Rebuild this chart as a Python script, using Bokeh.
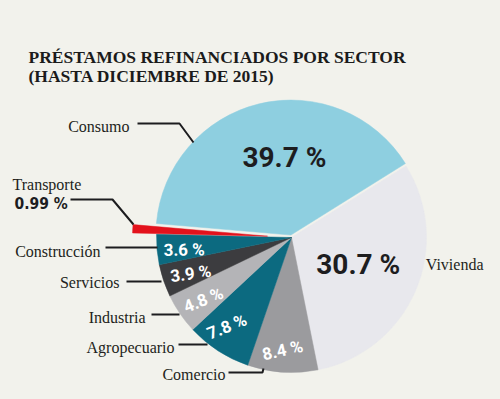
import math
from bokeh.plotting import figure
from bokeh.models import Range1d, GlobalInlineStyleSheet
from bokeh.core.properties import value
from bokeh.embed import file_html
from bokeh.resources import INLINE

# ---- data ----
sectors = ["Vivienda", "Comercio", "Agropecuario", "Industria", "Servicios",
           "Construcción", "Transporte", "Consumo"]
shares = [30.7, 8.4, 7.8, 4.8, 3.9, 3.6, 0.99, 39.7]
share_labels = ["30.7 %", "8.4 %", "7.8 %", "4.8 %", "3.9 %", "3.6 %", "0.99 %", "39.7 %"]
title_lines = ["PRÉSTAMOS REFINANCIADOS POR SECTOR", "(HASTA DICIEMBRE DE 2015)"]

# ---- styles / layout ----
colors = ["#e8e8ed", "#9b9b9e", "#0c6a80", "#b4b4b7", "#3c3c3f", "#0c6a80", "#e3121c", "#8ecfe0"]
explode = [0, 0, 0, 0, 0, 0, 24, 2.5]
inner_r = [72, 113, 110, 108, 107, 108, None, 80]
inner_da = [1.3, -0.8, -3.0, 0.9, 1.0, 1.3, None, -8.5]
inner_rot = [0, 13, 22, 22, 8, 1, None, 0]
inner_color = ["#1d1d1f", "white", "white", "white", "white", "white", None, "#1d1d1f"]
inner_size = ["28px", "17px", "17px", "17px", "17px", "17px", None, "28px"]

BG = "#f2f2ec"
W, H = 484, 383
CX, CY, R = 291, 237, 135
START = 32.0  # angle (deg) of Consumo / Vivienda boundary


def Y(py):
    return 399 - py


p = figure(width=W, height=H, x_range=Range1d(0, W), y_range=Range1d(399 - H, 399),
           output_backend="svg", toolbar_location=None, min_border=0)
p.axis.visible = False
p.grid.visible = False
p.outline_line_color = None
p.background_fill_color = BG
p.border_fill_color = BG
p.stylesheets = [GlobalInlineStyleSheet(css="html, body { background: %s; }" % BG)]

total = sum(shares)
ang = START
for i, (s, c) in enumerate(zip(shares, colors)):
    span = s / total * 360.0
    end = ang
    start = ang - span
    ang = start
    midd = (start + end) / 2
    mid = math.radians(midd)
    ox = CX + explode[i] * math.cos(mid)
    oy = Y(CY) + explode[i] * math.sin(mid)
    p.wedge(x=[ox], y=[oy], radius=R, start_angle=[math.radians(start)],
            end_angle=[math.radians(end)], fill_color=c, line_color=c, line_width=0.5)
    if inner_r[i] is not None:
        la = math.radians(midd + inner_da[i])
        tx = CX + inner_r[i] * math.cos(la)
        ty = Y(CY) + inner_r[i] * math.sin(la)
        p.text(x=[tx], y=[ty], text=[share_labels[i]], angle=math.radians(inner_rot[i]),
               text_align="center", text_baseline="middle",
               text_font=value("Roboto"), text_font_style="bold",
               text_font_size=inner_size[i], text_color=inner_color[i])

# ---- title ----
for line, by in zip(title_lines, [56, 75]):
    p.text(x=[28], y=[Y(by)], text=[line], text_align="left", text_baseline="alphabetic",
           text_font=value("Liberation Serif"), text_font_style="bold",
           text_font_size="17.5px", text_color="#1b1b1b")

# ---- outside labels ----
# (sector index, x, baseline y, align)
outside = [(7, 129, 126, "right"), (6, 12, 184, "left"), (5, 100, 251, "right"),
           (4, 119, 282, "right"), (3, 145, 317, "right"), (2, 174, 347, "right"),
           (1, 225, 374, "right"), (0, 483, 264, "right")]
for idx, lx, ly, al in outside:
    p.text(x=[lx], y=[Y(ly)], text=[sectors[idx]], text_align=al, text_baseline="alphabetic",
           text_font=value("Liberation Serif"), text_font_size="16px", text_color="#231f20")

p.text(x=[14], y=[Y(203)], text=[share_labels[6]], text_align="left", text_baseline="alphabetic",
       text_font=value("DejaVu Sans Condensed"), text_font_style="bold",
       text_font_size="15.5px", text_color="#1d1d1f")

# leader lines (pixel coords of the layout)
leaders = [
    ([137, 179, 193], [123, 123, 142]),
    ([70, 112, 133], [199, 199, 224]),
    ([105, 157], [247, 247]),
    ([126, 161], [281, 281]),
    ([151, 179], [314, 314]),
    ([178, 207], [344, 344]),
    ([228, 262, 263], [372, 372, 368]),
]
for xs, ys in leaders:
    p.line(x=xs, y=[Y(v) for v in ys], line_color="#1d1d1f", line_width=2)

open("out.html", "w").write(file_html(p, INLINE))
